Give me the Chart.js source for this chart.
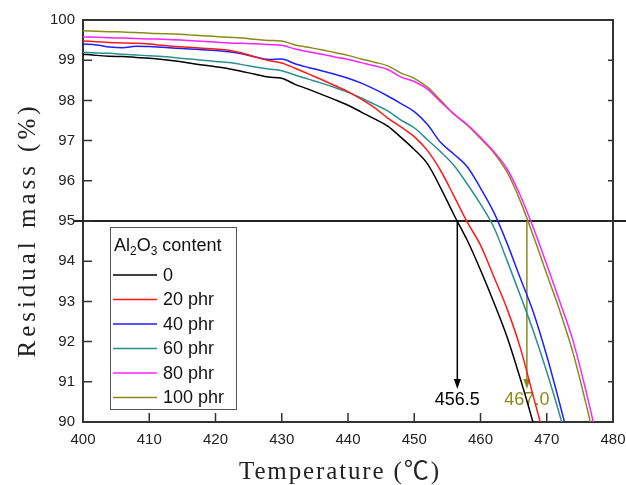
<!DOCTYPE html>
<html><head><meta charset="utf-8">
<style>html,body{margin:0;padding:0;background:#fff;}canvas{display:block;}</style>
<script src="https://cdn.jsdelivr.net/npm/chart.js@4.4.0/dist/chart.umd.min.js"></script>
</head><body>
<canvas id="c" width="626" height="485"></canvas>
<script>
// ---------------- data ----------------
const temps = [400,402,404,406,408,410,412,414,416,418,420,422,424,426,428,430,432,434,436,438,
               440,442,444,446,448,450,452,454,456,458,460,462,464,466,468,470,472,474,476,478];
const mass0   = [99.15,99.12,99.10,99.09,99.07,99.05,99.02,98.98,98.93,98.88,98.84,98.79,98.72,98.65,98.58,98.55,98.40,98.28,98.15,98.02,
                 97.88,97.71,97.54,97.36,97.08,96.78,96.42,95.82,95.15,94.52,93.78,92.98,92.12,91.08,89.95,88.75,null,null,null,null];
const mass20  = [99.48,99.46,99.44,99.43,99.42,99.40,99.37,99.34,99.32,99.30,99.28,99.25,99.18,99.08,98.99,98.93,98.80,98.66,98.52,98.37,
                 98.22,98.03,97.82,97.56,97.34,97.10,96.75,96.25,95.62,94.97,94.40,93.62,92.82,91.85,90.62,89.40,null,null,null,null];
const mass40  = [99.40,99.38,99.33,99.31,99.35,99.34,99.32,99.30,99.28,99.26,99.24,99.21,99.16,99.08,99.02,99.03,98.91,98.82,98.74,98.65,
                 98.55,98.43,98.28,98.11,97.92,97.72,97.40,96.95,96.66,96.35,95.82,95.22,94.45,93.58,92.72,91.65,90.43,89.15,null,null];
const mass60  = [99.20,99.18,99.17,99.15,99.13,99.11,99.09,99.06,99.03,99.00,98.97,98.94,98.89,98.83,98.78,98.74,98.63,98.53,98.43,98.32,
                 98.20,98.06,97.90,97.74,97.51,97.32,97.02,96.72,96.38,95.92,95.42,94.85,94.02,93.15,92.25,91.25,90.15,88.90,null,null];
const mass80  = [99.58,99.57,99.56,99.55,99.54,99.53,99.52,99.51,99.49,99.47,99.45,99.43,99.42,99.41,99.39,99.37,99.28,99.21,99.15,99.08,
                 99.02,98.94,98.86,98.77,98.58,98.47,98.28,97.96,97.66,97.40,97.08,96.73,96.30,95.64,94.82,93.92,92.98,92.00,90.72,89.30];
const mass100 = [99.73,99.72,99.71,99.70,99.69,99.67,99.66,99.65,99.63,99.61,99.59,99.57,99.55,99.52,99.49,99.48,99.38,99.32,99.26,99.19,
                 99.12,99.03,98.95,98.86,98.68,98.55,98.33,98.00,97.66,97.38,97.05,96.70,96.22,95.50,94.62,93.68,92.75,91.70,90.40,89.00];

const seriesValues = [mass0, mass20, mass40, mass60, mass80, mass100];
const seriesLabels = ['0', '20 phr', '40 phr', '60 phr', '80 phr', '100 phr'];
const seriesColors = ['#000000', '#ff1a1a', '#1f1fff', '#2a9090', '#ff22ff', '#8a8a1a'];

const xTickValues = [400,410,420,430,440,450,460,470,480];
const yTickValues = [90,91,92,93,94,95,96,97,98,99,100];

const refLevel = 95;                       // horizontal reference line (%)
const markTemps = [456.5, 467.0];          // T at 95 % residual mass
const markLabels = ['456.5', '467.0'];
const markColors = ['#000000', '#8a8a1a'];
const markTipLevel = 90.82;
const markLabelLevel = 90.55;

const xTitle = 'Temperature (\u2103)';
const yTitle = 'Residual mass (%)';
const legendTitleParts = [['Al', false], ['2', true], ['O', false], ['3', true], [' content', false]];

// ---------------- drawing helpers ----------------
const AXIS = '#333333';
function fitText(ctx, text, x, y, targetW) {
  ctx.letterSpacing = '0px';
  const w = ctx.measureText(text).width;
  const n = Array.from(text).length;
  const ls = (targetW - w) / (n - 1);
  ctx.letterSpacing = ls + 'px';
  ctx.textAlign = 'left';
  ctx.fillText(text, x - targetW / 2, y);
  ctx.letterSpacing = '0px';
}

const decorPlugin = {
  id: 'decor',
  beforeDatasetsDraw(chart) {
    const ctx = chart.ctx, xs = chart.scales.x, ys = chart.scales.y, a = chart.chartArea;
    ctx.save();
    const yRef = ys.getPixelForValue(refLevel);
    ctx.strokeStyle = '#222'; ctx.lineWidth = 2;
    ctx.beginPath(); ctx.moveTo(a.left - 10, yRef); ctx.lineTo(chart.width, yRef); ctx.stroke();
    markTemps.forEach((t, i) => {
      const x = xs.getPixelForValue(t);
      const yTip = ys.getPixelForValue(markTipLevel);
      ctx.strokeStyle = markColors[i]; ctx.fillStyle = markColors[i]; ctx.lineWidth = 1.5;
      ctx.beginPath(); ctx.moveTo(x, yRef); ctx.lineTo(x, yTip - 6); ctx.stroke();
      ctx.beginPath(); ctx.moveTo(x - 3.5, yTip - 10); ctx.lineTo(x + 3.5, yTip - 10); ctx.lineTo(x, yTip); ctx.closePath(); ctx.fill();
      ctx.font = '18px "Liberation Sans", Arial, sans-serif';
      ctx.textAlign = 'center'; ctx.textBaseline = 'middle';
      ctx.fillText(markLabels[i], x, ys.getPixelForValue(markLabelLevel));
    });
    ctx.restore();
  },
  afterDatasetsDraw(chart) {
    const ctx = chart.ctx, xs = chart.scales.x, ys = chart.scales.y, a = chart.chartArea;
    ctx.save();
    ctx.strokeStyle = AXIS; ctx.lineWidth = 2;
    ctx.beginPath(); ctx.moveTo(a.left, a.top); ctx.lineTo(a.right, a.top); ctx.lineTo(a.right, a.bottom); ctx.stroke();
    ctx.lineWidth = 1.5;
    ctx.beginPath();
    yTickValues.forEach(v => {
      const y = ys.getPixelForValue(v);
      if (v > 90 && v < 100) {
        ctx.moveTo(a.left, y); ctx.lineTo(a.left + 9, y);
        ctx.moveTo(a.right, y); ctx.lineTo(a.right - 5, y);
      }
    });
    xTickValues.forEach(v => {
      const x = xs.getPixelForValue(v);
      if (v > 400 && v < 480) { ctx.moveTo(x, a.bottom); ctx.lineTo(x, a.bottom - 9); }
    });
    ctx.stroke();
    // legend
    const bx = 110, by = 227, bw = 126, bh = 182;
    ctx.fillStyle = '#fff'; ctx.fillRect(bx, by, bw, bh);
    ctx.strokeStyle = '#555'; ctx.lineWidth = 1; ctx.strokeRect(bx + 0.5, by + 0.5, bw, bh);
    ctx.fillStyle = '#111'; ctx.textAlign = 'left'; ctx.textBaseline = 'alphabetic';
    let tx = bx + 4;
    const tBase = by + 24;
    legendTitleParts.forEach(([s, sub]) => {
      ctx.font = (sub ? '12px' : '18px') + ' "Liberation Sans", Arial, sans-serif';
      ctx.fillText(s, tx, sub ? tBase + 4 : tBase);
      tx += ctx.measureText(s).width;
    });
    chart.data.datasets.forEach((ds, i) => {
      const yy = by + 48 + i * 24.5;
      ctx.strokeStyle = ds.borderColor; ctx.lineWidth = 1.5;
      ctx.beginPath(); ctx.moveTo(bx + 3, yy); ctx.lineTo(bx + 47, yy); ctx.stroke();
      ctx.fillStyle = '#111'; ctx.font = '18px "Liberation Sans", Arial, sans-serif';
      ctx.textBaseline = 'middle';
      ctx.fillText(ds.label, bx + 53, yy + 1);
    });
    // axis titles
    ctx.fillStyle = '#222'; ctx.textBaseline = 'alphabetic';
    ctx.font = '25px "Liberation Serif", "Noto Sans CJK SC", serif';
    fitText(ctx, xTitle, 339, 479, 200);
    ctx.save();
    ctx.translate(35, 232);
    ctx.rotate(-Math.PI / 2);
    fitText(ctx, yTitle, 0, 0, 251);
    ctx.restore();
    ctx.restore();
  }
};

const tickFont = { family: '"Liberation Sans", Arial, sans-serif', size: 15 };
new Chart(document.getElementById('c').getContext('2d'), {
  type: 'line',
  data: {
    datasets: seriesValues.map((vals, i) => ({
      label: seriesLabels[i],
      data: vals.map((v, j) => ({ x: temps[j], y: v })),
      borderColor: seriesColors[i],
      borderWidth: 1.5,
      pointRadius: 0,
      fill: false,
      cubicInterpolationMode: 'monotone',
      spanGaps: false
    }))
  },
  options: {
    responsive: false,
    animation: false,
    devicePixelRatio: 1,
    layout: { padding: { top: 20, right: 13, left: 0, bottom: 0 } },
    plugins: { legend: { display: false }, tooltip: { enabled: false } },
    scales: {
      x: {
        type: 'linear', min: 400, max: 480,
        afterBuildTicks: s => { s.ticks = xTickValues.map(v => ({ value: v })); },
        afterFit: s => { s.height = 63; s.paddingRight = 0; s.paddingLeft = 0; },
        grid: { display: false, drawTicks: false },
        border: { display: true, color: AXIS, width: 2 },
        ticks: { padding: 9, font: tickFont, color: '#222', maxRotation: 0, autoSkip: false }
      },
      y: {
        type: 'linear', min: 90, max: 100,
        afterBuildTicks: s => { s.ticks = yTickValues.map(v => ({ value: v })); },
        afterFit: s => { s.width = 83; s.paddingTop = 0; s.paddingBottom = 0; },
        grid: { display: false, drawTicks: false },
        border: { display: true, color: AXIS, width: 2 },
        ticks: { padding: 8, font: tickFont, color: '#222', autoSkip: false }
      }
    }
  },
  plugins: [decorPlugin]
});
</script>
</body></html>
